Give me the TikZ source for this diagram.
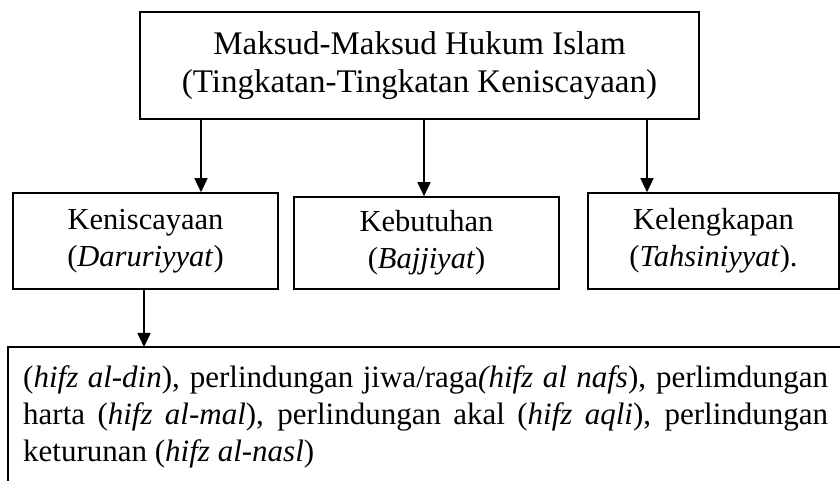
\documentclass[tikz,border=0pt]{standalone}
\usepackage{fontspec}
\setmainfont{Liberation Serif}
\usetikzlibrary{arrows.meta}
\tikzset{
  boxline/.style={draw=black, line width=1.6pt},
  topbox/.style={boxline, minimum width=559pt, minimum height=107pt, inner sep=0pt, align=center,
    font=\fontsize{33}{38}\selectfont},
  levelbox/.style={boxline, minimum width=265pt, minimum height=96pt, inner sep=0pt, align=center,
    font=\fontsize{30.5}{37}\selectfont},
  bottext/.style={inner xsep=15pt, inner ysep=0pt, align=justify, text width=805pt,
    font=\fontsize{31}{37}\selectfont},
  arr/.style={line width=1.6pt, -{Triangle[length=14pt,width=13pt]}}
}
\begin{document}
\begin{tikzpicture}[x=1pt,y=1pt]
\useasboundingbox (0,0) rectangle (840,481);
\clip (0,0) rectangle (840,481);
\fill[white] (0,0) rectangle (840,481);
% top box: x 140..699, y 12..119
\node[topbox] (top) at (419.5,415.5) {Maksud-Maksud Hukum Islam\\(Tingkatan-Tingkatan Keniscayaan)};
% level boxes
\node[levelbox] (lbox) at (145.5,240) {Keniscayaan\\(\textit{Daruriyyat})};
\node[levelbox, minimum height=92pt] (mbox) at (426.5,238) {Kebutuhan\\(\textit{Bajjiyat})};
\node[levelbox, minimum width=251pt] (rbox) at (713.5,240) {Kelengkapan\\(\textit{Tahsiniyyat}).};
% bottom text
\node[bottext, anchor=north west] (bot) at (8,116) {%
\makebox[805pt][s]{(\textit{hifz al-din}), perlindungan jiwa/raga\textit{(hifz al nafs}), perlimdungan}\\
\makebox[805pt][s]{harta (\textit{hifz al-mal}), perlindungan akal (\textit{hifz aqli}), perlindungan}\\
keturunan (\textit{hifz al-nasl})};
\coordinate (bnw) at (8,134);
\coordinate (bsw) at (8,-10);
\coordinate (bne) at (860,134);
\draw[boxline] (bsw) -- (bnw) -- (bne);
% arrows
\coordinate (x1) at (201,0);
\coordinate (x2) at (424,0);
\coordinate (x3) at (647,0);
\coordinate (x4) at (144,0);
\draw[arr] (top.south -| x1) -- (lbox.north -| x1);
\draw[arr] (top.south -| x2) -- (mbox.north -| x2);
\draw[arr] (top.south -| x3) -- (rbox.north -| x3);
\draw[arr] (lbox.south -| x4) -- (bnw -| x4);
\end{tikzpicture}
\end{document}
